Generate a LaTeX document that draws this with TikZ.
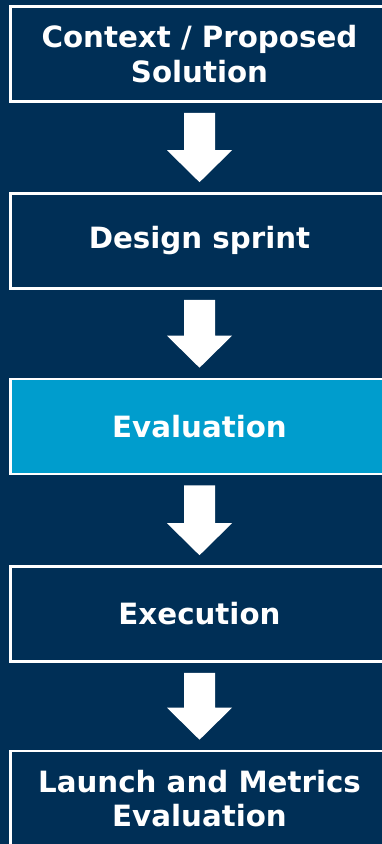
\documentclass[tikz,border=0pt]{standalone}
\usepackage{fontspec}
\setmainfont{DejaVu Sans}
\usetikzlibrary{calc}
\definecolor{navy}{RGB}{0,47,86}
\definecolor{lightblue}{RGB}{0,157,205}
\tikzset{
  stagebox/.style={draw=white, line width=2.6pt, fill=navy, minimum width=378pt, minimum height=95pt,
    inner sep=0pt, align=center, text=white, font=\fontsize{29.3}{34.8}\selectfont\bfseries},
  activebox/.style={stagebox, fill=lightblue},
}
\newcommand{\blockarrow}[2]{%
  \fill[white] ($(#1.south)+(-15.5,10)$) -- ($(#1.south)+(15.5,10)$) --
    ($(#2.north)+(15.5,-42)$) -- ($(#2.north)+(32.5,-42)$) -- ($(#2.north)+(0,-10)$) --
    ($(#2.north)+(-32.5,-42)$) -- ($(#2.north)+(-15.5,-42)$) -- cycle;}
\begin{document}
\begin{tikzpicture}[x=1pt,y=-1pt]
\useasboundingbox (0,0) rectangle (382,844);
\fill[navy] (0,0) rectangle (382,844);
\node[stagebox] (ctx) at (199.5,54) {Context / Proposed\\Solution};
\node[stagebox] (design) at (199.5,241) {Design sprint};
\node[activebox] (eval) at (199.5,426.5) {Evaluation};
\node[stagebox] (exec) at (199.5,614) {Execution};
\node[stagebox] (launch) at (199.5,798.5) {Launch and Metrics\\Evaluation};
\blockarrow{ctx}{design}
\blockarrow{design}{eval}
\blockarrow{eval}{exec}
\blockarrow{exec}{launch}
\end{tikzpicture}
\end{document}
